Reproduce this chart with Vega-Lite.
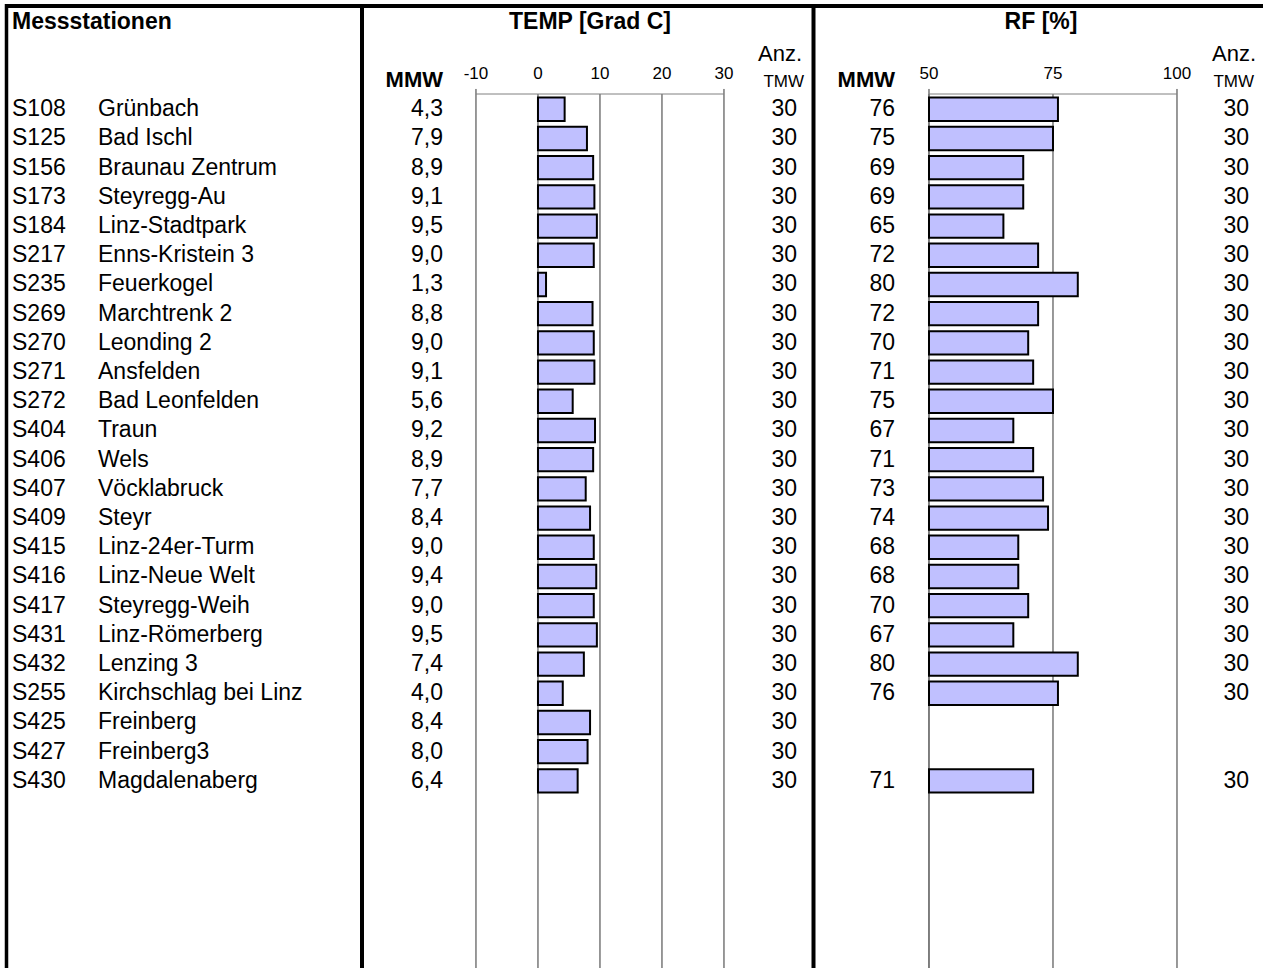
{
  "$schema": "https://vega.github.io/schema/vega-lite/v6.json",
  "width": 1263,
  "height": 968,
  "autosize": {"type": "none"},
  "padding": 0,
  "background": "white",
  "config": {
    "view": {"stroke": null},
    "font": "Liberation Sans",
    "locale": {"number": {"decimal": ",", "thousands": ".", "grouping": [3], "currency": ["", " €"], "minus": "-"}},
    "text": {"font": "Liberation Sans", "fontSize": 23, "baseline": "middle", "color": "black"}
  },
  "datasets": {
    "stationen": [
      {"Zeile": "S108", "Name": "Grünbach", "TEMP": 4.3, "TEMP_TMW": 30, "RF": 76, "RF_TMW": 30},
      {"Zeile": "S125", "Name": "Bad Ischl", "TEMP": 7.9, "TEMP_TMW": 30, "RF": 75, "RF_TMW": 30},
      {"Zeile": "S156", "Name": "Braunau Zentrum", "TEMP": 8.9, "TEMP_TMW": 30, "RF": 69, "RF_TMW": 30},
      {"Zeile": "S173", "Name": "Steyregg-Au", "TEMP": 9.1, "TEMP_TMW": 30, "RF": 69, "RF_TMW": 30},
      {"Zeile": "S184", "Name": "Linz-Stadtpark", "TEMP": 9.5, "TEMP_TMW": 30, "RF": 65, "RF_TMW": 30},
      {"Zeile": "S217", "Name": "Enns-Kristein 3", "TEMP": 9.0, "TEMP_TMW": 30, "RF": 72, "RF_TMW": 30},
      {"Zeile": "S235", "Name": "Feuerkogel", "TEMP": 1.3, "TEMP_TMW": 30, "RF": 80, "RF_TMW": 30},
      {"Zeile": "S269", "Name": "Marchtrenk 2", "TEMP": 8.8, "TEMP_TMW": 30, "RF": 72, "RF_TMW": 30},
      {"Zeile": "S270", "Name": "Leonding 2", "TEMP": 9.0, "TEMP_TMW": 30, "RF": 70, "RF_TMW": 30},
      {"Zeile": "S271", "Name": "Ansfelden", "TEMP": 9.1, "TEMP_TMW": 30, "RF": 71, "RF_TMW": 30},
      {"Zeile": "S272", "Name": "Bad Leonfelden", "TEMP": 5.6, "TEMP_TMW": 30, "RF": 75, "RF_TMW": 30},
      {"Zeile": "S404", "Name": "Traun", "TEMP": 9.2, "TEMP_TMW": 30, "RF": 67, "RF_TMW": 30},
      {"Zeile": "S406", "Name": "Wels", "TEMP": 8.9, "TEMP_TMW": 30, "RF": 71, "RF_TMW": 30},
      {"Zeile": "S407", "Name": "Vöcklabruck", "TEMP": 7.7, "TEMP_TMW": 30, "RF": 73, "RF_TMW": 30},
      {"Zeile": "S409", "Name": "Steyr", "TEMP": 8.4, "TEMP_TMW": 30, "RF": 74, "RF_TMW": 30},
      {"Zeile": "S415", "Name": "Linz-24er-Turm", "TEMP": 9.0, "TEMP_TMW": 30, "RF": 68, "RF_TMW": 30},
      {"Zeile": "S416", "Name": "Linz-Neue Welt", "TEMP": 9.4, "TEMP_TMW": 30, "RF": 68, "RF_TMW": 30},
      {"Zeile": "S417", "Name": "Steyregg-Weih", "TEMP": 9.0, "TEMP_TMW": 30, "RF": 70, "RF_TMW": 30},
      {"Zeile": "S431", "Name": "Linz-Römerberg", "TEMP": 9.5, "TEMP_TMW": 30, "RF": 67, "RF_TMW": 30},
      {"Zeile": "S432", "Name": "Lenzing 3", "TEMP": 7.4, "TEMP_TMW": 30, "RF": 80, "RF_TMW": 30},
      {"Zeile": "S255", "Name": "Kirchschlag bei Linz", "TEMP": 4.0, "TEMP_TMW": 30, "RF": 76, "RF_TMW": 30},
      {"Zeile": "S425", "Name": "Freinberg", "TEMP": 8.4, "TEMP_TMW": 30, "RF": null, "RF_TMW": null},
      {"Zeile": "S427", "Name": "Freinberg3", "TEMP": 8.0, "TEMP_TMW": 30, "RF": null, "RF_TMW": null},
      {"Zeile": "S430", "Name": "Magdalenaberg", "TEMP": 6.4, "TEMP_TMW": 30, "RF": 71, "RF_TMW": 30}
    ],
    "temp_skala": [{"Wert": -10}, {"Wert": 0}, {"Wert": 10}, {"Wert": 20}, {"Wert": 30}],
    "rf_skala": [{"Wert": 50}, {"Wert": 75}, {"Wert": 100}]
  },
  "encoding": {
    "y": {
      "field": "Zeile",
      "type": "nominal",
      "axis": null,
      "scale": {
        "domain": ["Titel", "Leer", "Kopf", "S108", "S125", "S156", "S173", "S184", "S217", "S235", "S269", "S270", "S271", "S272", "S404", "S406", "S407", "S409", "S415", "S416", "S417", "S431", "S432", "S255", "S425", "S427", "S430"],
        "range": [10, 792.56],
        "paddingInner": 0.2,
        "paddingOuter": 0,
        "round": false
      }
    }
  },
  "resolve": {"scale": {"x": "independent"}},
  "layer": [
    {
      "data": {"name": "temp_skala"},
      "mark": {"type": "rule", "color": "#333333", "strokeWidth": 1},
      "encoding": {
        "x": {"field": "Wert", "type": "quantitative", "axis": null, "scale": {"domain": [-86.77, 116.94], "nice": false, "zero": false}},
        "y": {"datum": "Kopf", "type": "nominal", "bandPosition": 1.096},
        "y2": {"value": "height"}
      }
    },
    {
      "data": {"name": "temp_skala"},
      "transform": [{"filter": "datum.Wert == -10 || datum.Wert == 30"}],
      "mark": {"type": "rule", "color": "#333333", "strokeWidth": 1},
      "encoding": {
        "x": {"field": "Wert", "type": "quantitative", "axis": null, "scale": {"domain": [-86.77, 116.94], "nice": false, "zero": false}},
        "y": {"datum": "Kopf", "type": "nominal", "bandPosition": 0.88},
        "y2": {"datum": "Kopf", "bandPosition": 1.096}
      }
    },
    {
      "data": {"name": "temp_skala"},
      "transform": [{"aggregate": [{"op": "min", "field": "Wert", "as": "von"}, {"op": "max", "field": "Wert", "as": "bis"}]}],
      "mark": {"type": "rule", "color": "#808080", "strokeWidth": 1},
      "encoding": {
        "x": {"field": "von", "type": "quantitative", "axis": null, "scale": {"domain": [-86.77, 116.94], "nice": false, "zero": false}},
        "x2": {"field": "bis"},
        "y": {"datum": "Kopf", "type": "nominal", "bandPosition": 1.096}
      }
    },
    {
      "data": {"name": "temp_skala"},
      "mark": {"type": "text", "fontSize": 17, "align": "center", "dy": -6},
      "encoding": {
        "x": {"field": "Wert", "type": "quantitative", "axis": null, "scale": {"domain": [-86.77, 116.94], "nice": false, "zero": false}},
        "y": {"datum": "Kopf", "type": "nominal"},
        "text": {"field": "Wert", "type": "nominal"}
      }
    },
    {
      "data": {"name": "rf_skala"},
      "mark": {"type": "rule", "strokeWidth": 1},
      "encoding": {
        "x": {"field": "Wert", "type": "quantitative", "axis": null, "scale": {"domain": [-137.3, 117.34], "nice": false, "zero": false}},
        "y": {"datum": "Kopf", "type": "nominal", "bandPosition": 1.096},
        "y2": {"value": "height"},
        "color": {"condition": {"test": "datum.Wert == 50", "value": "black"}, "value": "#333333"}
      }
    },
    {
      "data": {"name": "rf_skala"},
      "transform": [{"filter": "datum.Wert == 50 || datum.Wert == 100"}],
      "mark": {"type": "rule", "color": "#333333", "strokeWidth": 1},
      "encoding": {
        "x": {"field": "Wert", "type": "quantitative", "axis": null, "scale": {"domain": [-137.3, 117.34], "nice": false, "zero": false}},
        "y": {"datum": "Kopf", "type": "nominal", "bandPosition": 0.88},
        "y2": {"datum": "Kopf", "bandPosition": 1.096}
      }
    },
    {
      "data": {"name": "rf_skala"},
      "transform": [{"aggregate": [{"op": "min", "field": "Wert", "as": "von"}, {"op": "max", "field": "Wert", "as": "bis"}]}],
      "mark": {"type": "rule", "color": "#808080", "strokeWidth": 1},
      "encoding": {
        "x": {"field": "von", "type": "quantitative", "axis": null, "scale": {"domain": [-137.3, 117.34], "nice": false, "zero": false}},
        "x2": {"field": "bis"},
        "y": {"datum": "Kopf", "type": "nominal", "bandPosition": 1.096}
      }
    },
    {
      "data": {"name": "rf_skala"},
      "mark": {"type": "text", "fontSize": 17, "align": "center", "dy": -6},
      "encoding": {
        "x": {"field": "Wert", "type": "quantitative", "axis": null, "scale": {"domain": [-137.3, 117.34], "nice": false, "zero": false}},
        "y": {"datum": "Kopf", "type": "nominal"},
        "text": {"field": "Wert", "type": "nominal"}
      }
    },
    {
      "data": {"name": "stationen"},
      "mark": {"type": "bar", "fill": "#C0C0FF", "stroke": "black", "strokeWidth": 2},
      "encoding": {
        "x": {"field": "TEMP", "type": "quantitative", "axis": null, "scale": {"domain": [-86.77, 116.94], "nice": false, "zero": false}},
        "x2": {"datum": 0}
      }
    },
    {
      "data": {"name": "stationen"},
      "transform": [{"filter": "isValid(datum.RF)"}],
      "mark": {"type": "bar", "fill": "#C0C0FF", "stroke": "black", "strokeWidth": 2},
      "encoding": {
        "x": {"field": "RF", "type": "quantitative", "axis": null, "scale": {"domain": [-137.3, 117.34], "nice": false, "zero": false}},
        "x2": {"datum": 50}
      }
    },
    {
      "data": {"name": "stationen"},
      "mark": {"type": "text", "align": "left"},
      "encoding": {"x": {"value": 12}, "text": {"field": "Zeile", "type": "nominal"}}
    },
    {
      "data": {"name": "stationen"},
      "mark": {"type": "text", "align": "left"},
      "encoding": {"x": {"value": 98}, "text": {"field": "Name", "type": "nominal"}}
    },
    {
      "data": {"name": "stationen"},
      "mark": {"type": "text", "align": "right"},
      "encoding": {"x": {"value": 443}, "text": {"field": "TEMP", "type": "quantitative", "format": ".1f"}}
    },
    {
      "data": {"name": "stationen"},
      "mark": {"type": "text", "align": "right"},
      "encoding": {"x": {"value": 797}, "text": {"field": "TEMP_TMW", "type": "nominal"}}
    },
    {
      "data": {"name": "stationen"},
      "transform": [{"filter": "isValid(datum.RF)"}],
      "mark": {"type": "text", "align": "right"},
      "encoding": {"x": {"value": 895}, "text": {"field": "RF", "type": "quantitative", "format": ".0f"}}
    },
    {
      "data": {"name": "stationen"},
      "transform": [{"filter": "isValid(datum.RF_TMW)"}],
      "mark": {"type": "text", "align": "right"},
      "encoding": {"x": {"value": 1249}, "text": {"field": "RF_TMW", "type": "nominal"}}
    },
    {
      "data": {"values": [{"Zeile": "Titel", "Text": "Messstationen"}]},
      "mark": {"type": "text", "align": "left", "fontWeight": "bold"},
      "encoding": {"x": {"value": 12}, "text": {"field": "Text", "type": "nominal"}}
    },
    {
      "data": {"values": [{"Zeile": "Titel", "Text": "TEMP [Grad C]"}]},
      "mark": {"type": "text", "align": "center", "fontWeight": "bold"},
      "encoding": {"x": {"value": 590}, "text": {"field": "Text", "type": "nominal"}}
    },
    {
      "data": {"values": [{"Zeile": "Titel", "Text": "RF [%]"}]},
      "mark": {"type": "text", "align": "center", "fontWeight": "bold"},
      "encoding": {"x": {"value": 1041}, "text": {"field": "Text", "type": "nominal"}}
    },
    {
      "data": {"values": [{"Zeile": "Kopf", "Text": "MMW"}]},
      "mark": {"type": "text", "align": "right", "fontWeight": "bold", "fontSize": 22},
      "encoding": {"x": {"value": 443}, "text": {"field": "Text", "type": "nominal"}}
    },
    {
      "data": {"values": [{"Zeile": "Kopf", "Text": "MMW"}]},
      "mark": {"type": "text", "align": "right", "fontWeight": "bold", "fontSize": 22},
      "encoding": {"x": {"value": 895}, "text": {"field": "Text", "type": "nominal"}}
    },
    {
      "data": {"values": [{"Zeile": "Kopf", "Text": "Anz."}]},
      "mark": {"type": "text", "align": "right", "fontSize": 22, "dy": -26},
      "encoding": {"x": {"value": 802}, "text": {"field": "Text", "type": "nominal"}}
    },
    {
      "data": {"values": [{"Zeile": "Kopf", "Text": "TMW"}]},
      "mark": {"type": "text", "align": "right", "fontSize": 17, "dy": 2},
      "encoding": {"x": {"value": 804}, "text": {"field": "Text", "type": "nominal"}}
    },
    {
      "data": {"values": [{"Zeile": "Kopf", "Text": "Anz."}]},
      "mark": {"type": "text", "align": "right", "fontSize": 22, "dy": -26},
      "encoding": {"x": {"value": 1256}, "text": {"field": "Text", "type": "nominal"}}
    },
    {
      "data": {"values": [{"Zeile": "Kopf", "Text": "TMW"}]},
      "mark": {"type": "text", "align": "right", "fontSize": 17, "dy": 2},
      "encoding": {"x": {"value": 1254}, "text": {"field": "Text", "type": "nominal"}}
    },
    {
      "data": {"values": [{}]},
      "mark": {"type": "rule", "color": "black", "strokeWidth": 4},
      "encoding": {"x": {"value": 5}, "x2": {"value": "width"}, "y": {"value": 6}}
    },
    {
      "data": {"values": [{}]},
      "mark": {"type": "rule", "color": "black", "strokeWidth": 3.5},
      "encoding": {"x": {"value": 6.5}, "y": {"value": 4}, "y2": {"value": "height"}}
    },
    {
      "data": {"values": [{}]},
      "mark": {"type": "rule", "color": "black", "strokeWidth": 4},
      "encoding": {"x": {"value": 362}, "y": {"value": 4}, "y2": {"value": "height"}}
    },
    {
      "data": {"values": [{}]},
      "mark": {"type": "rule", "color": "black", "strokeWidth": 4},
      "encoding": {"x": {"value": 813.5}, "y": {"value": 4}, "y2": {"value": "height"}}
    }
  ]
}
